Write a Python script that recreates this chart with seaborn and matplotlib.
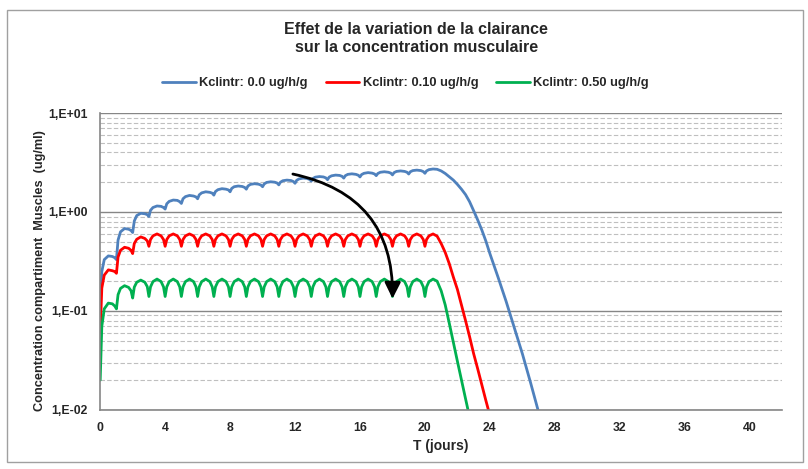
import pandas as pd
import matplotlib
matplotlib.use("Agg")
import matplotlib.pyplot as plt
import seaborn as sns
from matplotlib.patches import Rectangle

# -----------------------------
# data
# -----------------------------
# one dose per day, curve sampled at these phases inside each 1-day interval
DOSE_DAYS = list(range(21))
PHASE = [0, 0.1, 0.25, 0.5, 0.75, 0.9]

SERIES = ['Kclintr: 0.0 ug/h/g', 'Kclintr: 0.10 ug/h/g', 'Kclintr: 0.50 ug/h/g']
COLORS = ['#4F81BD', '#FF0000', '#00B050']

BLUE_CYCLES = [
    [0.12, 0.25, 0.33, 0.36, 0.355, 0.345],
    [0.33, 0.52, 0.63, 0.68, 0.67, 0.65],
    [0.62, 0.81, 0.92, 0.97, 0.96, 0.94],
    [0.90, 1.04, 1.11, 1.15, 1.14, 1.11],
    [1.07, 1.21, 1.28, 1.32, 1.31, 1.27],
    [1.22, 1.36, 1.43, 1.47, 1.45, 1.42],
    [1.36, 1.49, 1.56, 1.60, 1.58, 1.55],
    [1.48, 1.61, 1.68, 1.72, 1.70, 1.67],
    [1.60, 1.73, 1.80, 1.83, 1.81, 1.77],
    [1.70, 1.83, 1.90, 1.93, 1.91, 1.87],
    [1.80, 1.92, 1.99, 2.02, 2.00, 1.96],
    [1.88, 2.00, 2.07, 2.10, 2.08, 2.03],
    [1.95, 2.09, 2.16, 2.20, 2.18, 2.13],
    [2.05, 2.18, 2.25, 2.28, 2.26, 2.21],
    [2.12, 2.25, 2.32, 2.36, 2.34, 2.29],
    [2.20, 2.33, 2.40, 2.43, 2.40, 2.35],
    [2.26, 2.39, 2.46, 2.50, 2.47, 2.42],
    [2.33, 2.45, 2.52, 2.55, 2.52, 2.47],
    [2.37, 2.50, 2.57, 2.60, 2.57, 2.52],
    [2.42, 2.55, 2.62, 2.65, 2.62, 2.56],
    [2.46, 2.60, 2.68, 2.72],
]
RED_CYCLES = [
    [0.06, 0.17, 0.23, 0.26, 0.255, 0.25],
    [0.24, 0.35, 0.41, 0.44, 0.43, 0.41],
    [0.38, 0.48, 0.53, 0.56, 0.54, 0.51],
    [0.45, 0.527, 0.574, 0.60, 0.574, 0.527],
    [0.45, 0.527, 0.574, 0.60, 0.574, 0.527],
    [0.45, 0.527, 0.574, 0.60, 0.574, 0.527],
    [0.45, 0.527, 0.574, 0.60, 0.574, 0.527],
    [0.45, 0.527, 0.574, 0.60, 0.574, 0.527],
    [0.45, 0.527, 0.574, 0.60, 0.574, 0.527],
    [0.45, 0.527, 0.574, 0.60, 0.574, 0.527],
    [0.45, 0.527, 0.574, 0.60, 0.574, 0.527],
    [0.45, 0.527, 0.574, 0.60, 0.574, 0.527],
    [0.45, 0.527, 0.574, 0.60, 0.574, 0.527],
    [0.45, 0.527, 0.574, 0.60, 0.574, 0.527],
    [0.45, 0.527, 0.574, 0.60, 0.574, 0.527],
    [0.45, 0.527, 0.574, 0.60, 0.574, 0.527],
    [0.45, 0.527, 0.574, 0.60, 0.574, 0.527],
    [0.45, 0.527, 0.574, 0.60, 0.574, 0.527],
    [0.45, 0.527, 0.574, 0.60, 0.574, 0.527],
    [0.45, 0.527, 0.574, 0.60, 0.574, 0.527],
    [0.45, 0.527, 0.574, 0.60],
]
GREEN_CYCLES = [
    [0.02, 0.07, 0.105, 0.12, 0.118, 0.112],
    [0.105, 0.146, 0.169, 0.18, 0.173, 0.16],
    [0.135, 0.174, 0.195, 0.205, 0.195, 0.176],
    [0.14, 0.175, 0.198, 0.21, 0.198, 0.175],
    [0.14, 0.175, 0.198, 0.21, 0.198, 0.175],
    [0.14, 0.175, 0.198, 0.21, 0.198, 0.175],
    [0.14, 0.175, 0.198, 0.21, 0.198, 0.175],
    [0.14, 0.175, 0.198, 0.21, 0.198, 0.175],
    [0.14, 0.175, 0.198, 0.21, 0.198, 0.175],
    [0.14, 0.175, 0.198, 0.21, 0.198, 0.175],
    [0.14, 0.175, 0.198, 0.21, 0.198, 0.175],
    [0.14, 0.175, 0.198, 0.21, 0.198, 0.175],
    [0.14, 0.175, 0.198, 0.21, 0.198, 0.175],
    [0.14, 0.175, 0.198, 0.21, 0.198, 0.175],
    [0.14, 0.175, 0.198, 0.21, 0.198, 0.175],
    [0.14, 0.175, 0.198, 0.21, 0.198, 0.175],
    [0.14, 0.175, 0.198, 0.21, 0.198, 0.175],
    [0.14, 0.175, 0.198, 0.21, 0.198, 0.175],
    [0.14, 0.175, 0.198, 0.21, 0.198, 0.175],
    [0.14, 0.175, 0.198, 0.21, 0.198, 0.175],
    [0.14, 0.175, 0.198, 0.21],
]

# washout after the last dose
BLUE_TAIL_T = [20.75, 21.0, 21.25, 21.5, 21.75, 22.0, 22.25, 22.5, 22.75, 23.0,
               23.25, 23.5, 23.75, 24.0, 24.5, 25.0, 25.5, 26.0, 26.5, 27.0, 27.5]
BLUE_TAIL = [2.70, 2.60, 2.45, 2.27, 2.10, 1.90, 1.70, 1.50, 1.27, 1.03,
             0.83, 0.66, 0.51, 0.38, 0.22, 0.125, 0.068, 0.037, 0.019, 0.0095, 0.0045]
RED_TAIL_T = [20.75, 21.0, 21.25, 21.5, 21.75, 22.0, 22.25, 22.5, 22.75, 23.0,
              23.25, 23.5, 23.75, 24.0, 24.5]
RED_TAIL = [0.57, 0.48, 0.39, 0.30, 0.22, 0.165, 0.115, 0.08, 0.055, 0.037,
            0.026, 0.018, 0.0125, 0.0088, 0.004]
GREEN_TAIL_T = [20.75, 21.0, 21.25, 21.5, 21.75, 22.0, 22.25, 22.5, 22.75, 23.0]
GREEN_TAIL = [0.20, 0.16, 0.115, 0.075, 0.048, 0.031, 0.02, 0.013, 0.0085, 0.0055]

Y_TICKS = [0.01, 0.1, 1, 10]
Y_LABELS = ['1,E-02', '1,E-01', '1,E+00', '1,E+01']
X_TICKS = [0, 4, 8, 12, 16, 20, 24, 28, 32, 36, 40]

# -----------------------------
# long table for seaborn
# -----------------------------
rows = []
for name, cycles, tail_t, tail in zip(SERIES,
                                      [BLUE_CYCLES, RED_CYCLES, GREEN_CYCLES],
                                      [BLUE_TAIL_T, RED_TAIL_T, GREEN_TAIL_T],
                                      [BLUE_TAIL, RED_TAIL, GREEN_TAIL]):
    for day, vals in zip(DOSE_DAYS, cycles):
        for p, v in zip(PHASE, vals):
            rows.append((day + p, v, name))
    for t, v in zip(tail_t, tail):
        rows.append((t, v, name))
df = pd.DataFrame(rows, columns=['T', 'C', 'serie'])

# -----------------------------
# plot
# -----------------------------
sns.set_style('white')
plt.rcParams['font.family'] = ['Liberation Sans', 'DejaVu Sans']
plt.rcParams['font.weight'] = 'bold'

fig = plt.figure(figsize=(8.08, 4.69), dpi=100)
ax = fig.add_axes([0.124, 0.126, 0.844, 0.633])

sns.lineplot(data=df, x='T', y='C', hue='serie', hue_order=SERIES,
             palette=COLORS, linewidth=2, estimator=None, sort=False,
             legend=False, ax=ax)

ax.set_yscale('log')
ax.set_ylim(0.01, 10)
ax.set_xlim(0, 42)

ax.set_yticks(Y_TICKS)
ax.set_yticklabels(Y_LABELS)
ax.set_xticks(X_TICKS)
ax.set_xticklabels([str(x) for x in X_TICKS])
ax.set_xticks(range(0, 43), minor=True)
ax.yaxis.set_minor_formatter(plt.NullFormatter())

ax.grid(which='major', axis='y', color='#868686', linewidth=1.0, linestyle='-')
ax.grid(which='minor', axis='y', color='#BFBFBF', linewidth=0.8, linestyle=(0, (4, 2)))
ax.grid(which='both', axis='x', visible=False)
ax.set_axisbelow(True)

for side in ['top', 'right']:
    ax.spines[side].set_visible(False)
for side in ['left', 'bottom']:
    ax.spines[side].set_color('#868686')
    ax.spines[side].set_linewidth(1.2)

ax.tick_params(axis='both', which='major', direction='out', length=5,
               color='#868686', labelsize=8.8, pad=4)
ax.tick_params(axis='x', which='minor', direction='out', length=3, color='#868686')
ax.tick_params(axis='y', which='minor', length=0)
for lab in ax.get_xticklabels() + ax.get_yticklabels():
    lab.set_fontweight('bold')

ax.set_xlabel('T (jours)', fontsize=10, fontweight='bold', labelpad=3)
ax.set_ylabel('Concentration compartiment  Muscles  (ug/ml)', fontsize=9.2,
              fontweight='bold')
ax.yaxis.set_label_coords(-0.08, 0.47)

# arrow showing the effect of increasing clearance
ax.annotate('', xy=(18.0, 0.125), xytext=(11.7, 2.45),
            arrowprops=dict(arrowstyle='-|>', color='black', lw=2,
                            mutation_scale=24,
                            connectionstyle='arc3,rad=-0.42'))

fig.text(0.515, 0.917, 'Effet de la variation de la clairance\nsur la concentration musculaire',
         ha='center', va='center', fontsize=11.5, fontweight='bold', linespacing=1.25)

handles = ax.get_lines()[:3]
fig.legend(handles, SERIES, loc='center', bbox_to_anchor=(0.502, 0.823), ncol=3,
           frameon=False, handlelength=2.6, columnspacing=1.4,
           handletextpad=0.25, prop={'weight': 'bold', 'size': 9.3})

fig.patches.append(Rectangle((0.009, 0.015), 0.985, 0.963, transform=fig.transFigure,
                             fill=False, edgecolor='#A0A0A0', linewidth=1.0))

fig.savefig('out.png', dpi=100)
